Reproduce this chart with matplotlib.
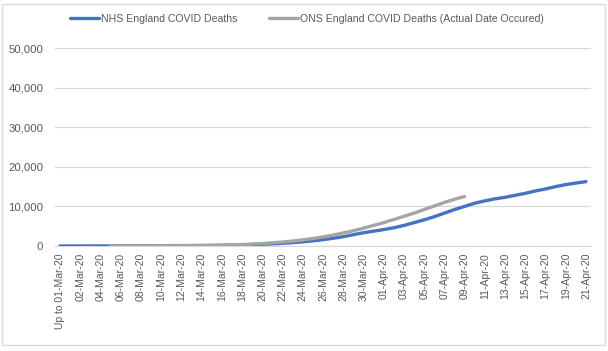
import datetime as dt

import matplotlib
matplotlib.use("Agg")
import matplotlib.pyplot as plt
from matplotlib.patches import Rectangle

plt.rcParams["font.family"] = ["Liberation Sans", "DejaVu Sans"]

# categories: "Up to 01-Mar-20", then 01-Mar-20 ... 21-Apr-20
start = dt.date(2020, 3, 1)
categories = ["Up to 01-Mar-20"] + [
    (start + dt.timedelta(days=k)).strftime("%d-%b-%y") for k in range(52)
]

nhs_deaths = [
    0, 5, 10, 15, 20, 25, 30, 40, 50, 60,
    80, 90, 100, 110, 130, 150, 180, 230, 290, 360,
    440, 540, 680, 850, 1050, 1300, 1600, 1950, 2350, 2850,
    3350, 3750, 4150, 4600, 5200, 5900, 6600, 7400, 8300, 9200,
    10000, 10800, 11400, 11900, 12300, 12800, 13300, 13900, 14400, 15000,
    15500, 15900, 16250,
]

ons_deaths = [None] * 5 + [
    10, 20, 30, 40, 50, 60, 70, 80, 100, 120,
    150, 200, 280, 370, 480, 620, 800, 1000, 1250, 1550,
    1900, 2300, 2750, 3300, 3850, 4500, 5200, 5900, 6700, 7500,
    8300, 9200, 10100, 11000, 11800, 12500,
]

y_ticks = [0, 10000, 20000, 30000, 40000, 50000]

fig = plt.figure(figsize=(6.08, 3.51), dpi=100)
ax = fig.add_axes([55 / 608, 1 - 246 / 351, 536 / 608, 198 / 351])

x = list(range(len(categories)))
ons_x = [i for i, v in enumerate(ons_deaths) if v is not None]
ons_y = [v for v in ons_deaths if v is not None]

ax.plot(x, nhs_deaths, color="#4472C4", lw=2.4, solid_capstyle="round",
        label="NHS England COVID Deaths", zorder=3)
ax.plot(ons_x, ons_y, color="#A5A5A5", lw=2.4, solid_capstyle="round",
        label="ONS England COVID Deaths (Actual Date Occured)", zorder=4)

ax.set_xlim(-0.5, len(categories) - 0.5)
ax.set_ylim(0, 50000)
ax.set_yticks(y_ticks)
ax.set_yticklabels([f"{v:,}" for v in y_ticks])
ax.set_xticks(x[::2])
ax.set_xticklabels(categories[::2], rotation=90)

ax.grid(axis="y", color="#D9D9D9", lw=0.9)
ax.set_axisbelow(True)
for side in ["top", "right", "left"]:
    ax.spines[side].set_visible(False)
ax.spines["bottom"].set_color("#D9D9D9")
ax.tick_params(axis="both", length=0, colors="#595959", labelsize=7.5)
ax.tick_params(axis="y", pad=8.5, labelsize=8.2)
ax.tick_params(axis="x", pad=5)

fig.legend(loc="center", bbox_to_anchor=(0.505, 1 - 19 / 351), ncol=2,
           frameon=False, fontsize=7.6, handlelength=2.7, handletextpad=0.2,
           columnspacing=3.0, labelcolor="#595959")

fig.patches.append(Rectangle((2 / 608, 6 / 351), 603 / 608, 341 / 351,
                             transform=fig.transFigure, fill=False,
                             edgecolor="#D9D9D9", lw=1))

fig.savefig("out.png", dpi=100)
